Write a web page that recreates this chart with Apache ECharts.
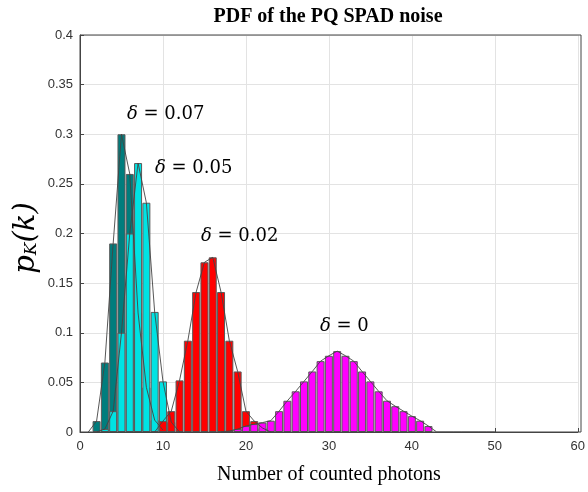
<!DOCTYPE html>
<html>
<head>
<meta charset="utf-8">
<script src="https://cdn.jsdelivr.net/npm/echarts@6/dist/echarts.min.js"></script>
<style>
  html, body { margin: 0; padding: 0; background: #fff; }
  #main { width: 588px; height: 492px; }
</style>
</head>
<body>
<div id="main"></div>
<script>
// photon counts k and probabilities
var tealK = [1, 2, 3, 4, 5, 6, 7, 8, 9, 10];
var tealP = [0, 0.011, 0.070, 0.190, 0.300, 0.260, 0.120, 0.045, 0.012, 0.002];

var cyanK = [2, 3, 4, 5, 6, 7, 8, 9, 10, 11, 12];
var cyanP = [0, 0.003, 0.021, 0.100, 0.200, 0.271, 0.231, 0.121, 0.051, 0.010, 0];

var redK = [9, 10, 11, 12, 13, 14, 15, 16, 17, 18, 19, 20, 21, 22, 23];
var redP = [0, 0.011, 0.021, 0.052, 0.092, 0.141, 0.171, 0.176, 0.141, 0.092, 0.061, 0.021, 0.011, 0.004, 0];

var magK = [17, 18, 19, 20, 21, 22, 23, 24, 25, 26, 27, 28, 29, 30, 31, 32, 33, 34,
            35, 36, 37, 38, 39, 40, 41, 42, 43, 44, 45, 46, 47, 48, 49, 50];
var magP = [0, 0.001, 0.003, 0.006, 0.008, 0.0095, 0.0114, 0.021, 0.0315, 0.041, 0.051, 0.061,
            0.0714, 0.0768, 0.0815, 0.0768, 0.0714, 0.061, 0.051, 0.041, 0.0315, 0.026, 0.021,
            0.016, 0.0114, 0.006, 0, 0, 0, 0, 0, 0, 0, 0];

var yTicks = [0, 0.05, 0.1, 0.15, 0.2, 0.25, 0.3, 0.35, 0.4];

var myChart = echarts.init(document.getElementById('main'));

function pairs(ks, ps) {
    return ks.map(function (k, i) { return [k, ps[i]]; });
}
function barPairs(ks, ps) {
    return pairs(ks, ps).filter(function (d) { return d[1] > 0; });
}

function barSeries(name, ks, ps, color) {
    return {
        name: name,
        type: 'bar',
        data: barPairs(ks, ps),
        barWidth: 8,
        barGap: '-100%',
        itemStyle: { color: color, borderColor: '#5a5a5a', borderWidth: 1 },
        silent: true
    };
}
function lineSeries(name, ks, ps) {
    return {
        name: name + ' line',
        type: 'line',
        data: pairs(ks, ps),
        symbol: 'none',
        z: 5,
        lineStyle: { color: '#444', width: 0.9 },
        silent: true
    };
}

var mathFont = 'DejaVu Serif';

function deltaLabel(x, y, value) {
    return {
        type: 'text', x: x, y: y, z: 100,
        style: {
            text: '{d|δ} = ' + value, verticalAlign: 'middle',
            fontFamily: mathFont, fontSize: 18, fill: '#000',
            rich: { d: { fontFamily: mathFont, fontStyle: 'italic', fontSize: 18 } }
        }
    };
}

var option = {
    animation: false,
    title: {
        text: 'PDF of the PQ SPAD noise',
        left: 323,
        textAlign: 'center',
        top: 2,
        textStyle: { fontFamily: 'Liberation Serif', fontWeight: 'bold', fontSize: 20, color: '#000' }
    },
    grid: { left: 80, right: 7, top: 35, bottom: 60 },
    xAxis: {
        type: 'value',
        min: 0, max: 60, interval: 10,
        axisLine: { show: true, lineStyle: { color: '#444' } },
        axisTick: { inside: true, length: 4, lineStyle: { color: '#444' } },
        axisLabel: { color: '#333', fontFamily: 'Liberation Sans', fontSize: 13, margin: 8 },
        splitLine: { show: true, lineStyle: { color: '#e3e3e3' } },
        name: 'Number of counted photons',
        nameLocation: 'middle',
        nameGap: 33,
        nameTextStyle: { fontFamily: 'Liberation Serif', fontSize: 20, color: '#000' }
    },
    yAxis: {
        type: 'value',
        min: 0, max: 0.4, interval: 0.05,
        axisLine: { show: true, lineStyle: { color: '#444' } },
        axisTick: { show: true, inside: true, length: 4, lineStyle: { color: '#444' } },
        axisLabel: {
            color: '#333', fontFamily: 'Liberation Sans', fontSize: 13, margin: 7,
            formatter: function (v) { return yTicks.indexOf(+v.toFixed(2)) >= 0 ? String(+v.toFixed(2)) : ''; }
        },
        splitLine: { show: true, lineStyle: { color: '#e3e3e3' } }
    },
    graphic: [
        // box top and right edges
        { type: 'rect', shape: { x: 80, y: 35, width: 501, height: 397 }, style: { fill: 'none', stroke: '#444', lineWidth: 1 }, silent: true, z: 10 },
        {
            type: 'text', x: 26, y: 238, rotation: Math.PI / 2, z: 100,
            style: {
                text: '{p|p}{s|K}{p|(k)}', align: 'center', verticalAlign: 'middle',
                rich: {
                    p: { fontFamily: mathFont, fontStyle: 'italic', fontSize: 29, color: '#000' },
                    s: { fontFamily: mathFont, fontStyle: 'italic', fontSize: 17, color: '#000', verticalAlign: 'bottom', padding: [12, 0, 0, 0] }
                }
            }
        },
        deltaLabel(127, 114, '0.07'),
        deltaLabel(155, 168, '0.05'),
        deltaLabel(201, 236, '0.02'),
        deltaLabel(320, 326, '0')
    ],
    series: [
        barSeries('δ = 0.07', tealK, tealP, '#007d7d'),
        barSeries('δ = 0.05', cyanK, cyanP, '#00e3e3'),
        barSeries('δ = 0.02', redK, redP, '#ff0000'),
        barSeries('δ = 0', magK, magP, '#ff00ff'),
        lineSeries('δ = 0.07', tealK, tealP),
        lineSeries('δ = 0.05', cyanK, cyanP),
        lineSeries('δ = 0.02', redK, redP),
        lineSeries('δ = 0', magK, magP)
    ]
};

myChart.setOption(option);
</script>
</body>
</html>
